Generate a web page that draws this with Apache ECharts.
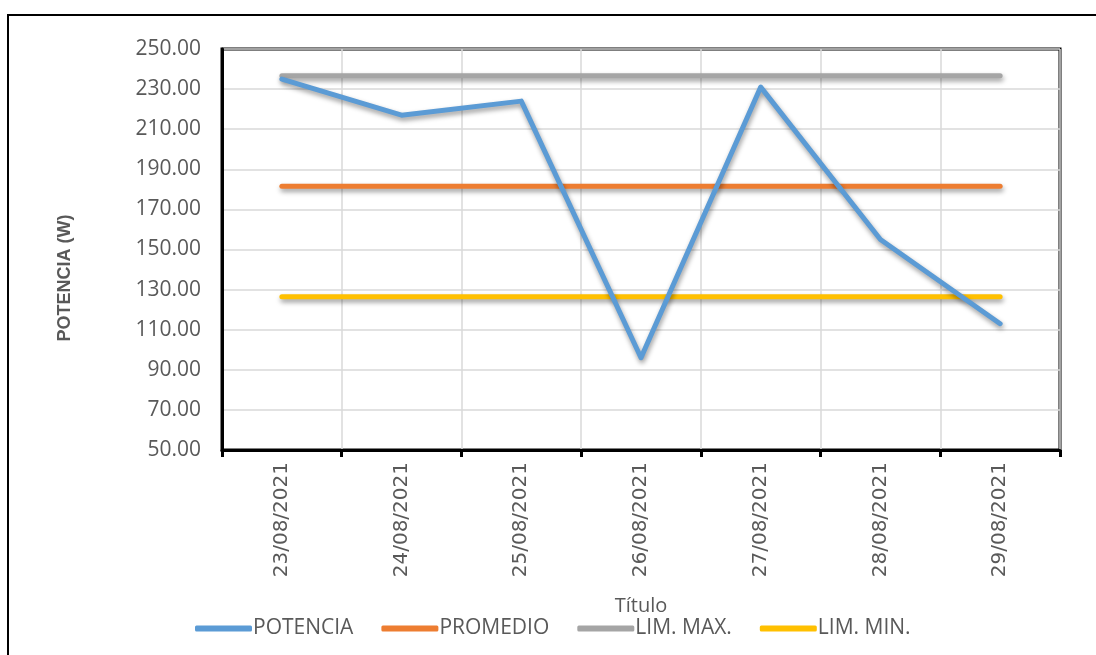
<!DOCTYPE html>
<html><head><meta charset="utf-8">
<script src="https://cdn.jsdelivr.net/npm/echarts@6/dist/echarts.min.js"></script>
<style>html,body{margin:0;padding:0;background:#fff}#c{width:1096px;height:655px}</style>
</head><body><div id="c"></div>
<script>
const categories = ['23/08/2021','24/08/2021','25/08/2021','26/08/2021','27/08/2021','28/08/2021','29/08/2021'];
const potencia = [235, 217, 224, 96, 231, 155, 113];
const promedio = [181.6, 181.6, 181.6, 181.6, 181.6, 181.6, 181.6];
const limMax = [236.7, 236.7, 236.7, 236.7, 236.7, 236.7, 236.7];
const limMin = [126.4, 126.4, 126.4, 126.4, 126.4, 126.4, 126.4];
const seriesNames = ['POTENCIA','PROMEDIO','LIM. MAX.','LIM. MIN.'];
const colors = ['#5b9bd5','#ed7d31','#a5a5a5','#ffc000'];

const chart = echarts.init(document.getElementById('c'), null, {renderer:'canvas'});
const font = "'Open Sans', Calibri, 'Liberation Sans', sans-serif";
function mk(name, data, color, z){
  return {name, type:'line', data, symbol:'none', z,
    lineStyle:{color, width:5, cap:'round', join:'round', shadowColor:'rgba(0,0,0,0.4)', shadowBlur:5, shadowOffsetX:1, shadowOffsetY:3},
    itemStyle:{color}, emphasis:{disabled:true}, animation:false};
}
chart.setOption({
  animation:false,
  graphic:[
    {type:'rect', shape:{x:8, y:15, width:1200, height:700}, style:{fill:'none', stroke:'#000', lineWidth:2}, silent:true},
    {type:'text', x:65, y:278, rotation:Math.PI/2, silent:true,
     style:{text:'POTENCIA (W)', font:"bold 18px 'Liberation Sans', Arial, sans-serif", fill:'#595959', align:'center', verticalAlign:'middle'}}
  ],
  grid:{left:222, right:36, top:49, bottom:205, show:true, borderColor:'#000', borderWidth:3, backgroundColor:'transparent'},
  legend:{top:613, left:190, itemWidth:57, itemHeight:6, itemGap:28,
    icon:'roundRect',
    textStyle:{fontFamily:font, fontSize:21, color:'#595959', padding:[0,0,0,-4]},
    data:seriesNames},
  xAxis:{type:'category', data:categories, boundaryGap:true,
    name:'Título', nameLocation:'middle', nameGap:146,
    nameTextStyle:{fontFamily:font, fontSize:20, color:'#595959'},
    axisLine:{lineStyle:{color:'#000', width:3}},
    axisTick:{show:true, length:7, inside:false, lineStyle:{color:'#000', width:3}},
    axisLabel:{rotate:90, fontFamily:"'DejaVu Sans', Verdana, sans-serif", fontSize:20, color:'#595959', margin:12},
    splitLine:{show:true, lineStyle:{color:'#d9d9d9', width:1.5}}},
  yAxis:{type:'value', min:50, max:250, interval:20,
    axisLine:{show:true, lineStyle:{color:'#000', width:3}},
    axisTick:{show:false},
    axisLabel:{fontFamily:font, fontSize:21, color:'#595959', margin:21, formatter:v=>v.toFixed(2)},
    splitLine:{show:true, lineStyle:{color:'#d9d9d9', width:1.5}}},
  series:[
    mk(seriesNames[1], promedio, colors[1], 3),
    mk(seriesNames[2], limMax, colors[2], 2),
    mk(seriesNames[3], limMin, colors[3], 4),
    mk(seriesNames[0], potencia, colors[0], 5)
  ]
});
</script></body></html>
